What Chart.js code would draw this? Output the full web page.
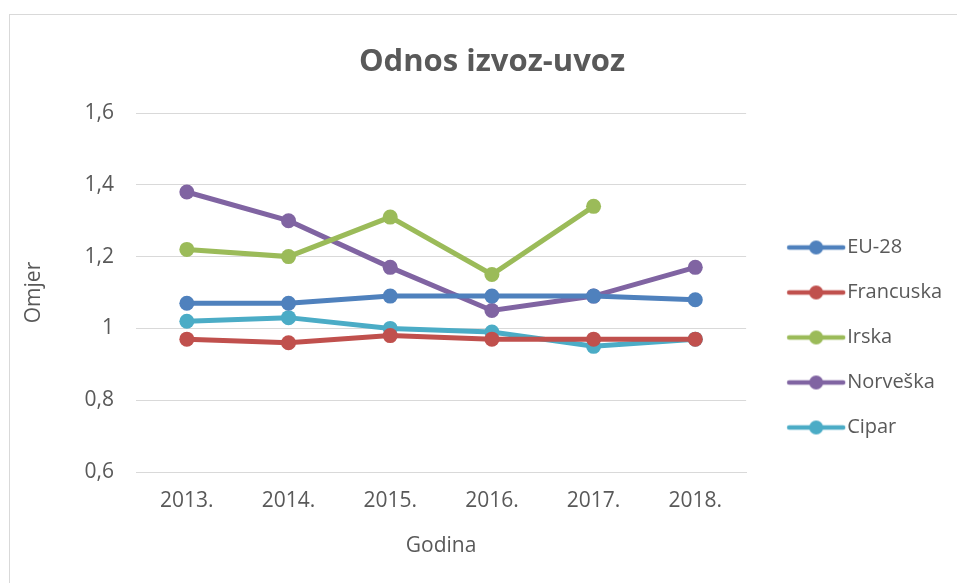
<!DOCTYPE html>
<html>
<head>
<meta charset="utf-8">
<script src="https://cdn.jsdelivr.net/npm/chart.js@4/dist/chart.umd.min.js"></script>
<style>
  html, body { margin: 0; padding: 0; background: #fff; overflow: hidden; }
  #frame {
    position: absolute; left: 9px; top: 14px;
    width: 963px; height: 580px;
    border: 1px solid #d9d9d9; background: #fff; overflow: hidden;
  }
  #frame canvas { display: block; }
</style>
</head>
<body>
<div id="frame"><canvas id="chart" width="972" height="580"></canvas></div>
<script>
const years = ["2013.", "2014.", "2015.", "2016.", "2017.", "2018."];
const eu28 = [1.07, 1.07, 1.09, 1.09, 1.09, 1.08];
const francuska = [0.97, 0.96, 0.98, 0.97, 0.97, 0.97];
const irska = [1.22, 1.20, 1.31, 1.15, 1.34, null];
const norveska = [1.38, 1.30, 1.17, 1.05, 1.09, 1.17];
const cipar = [1.02, 1.03, 1.00, 0.99, 0.95, 0.97];

const FONT = "'Open Sans', 'Liberation Sans', sans-serif";
const TEXT = "#595959";
const MARK_W = 66; // legend box width, text starts after it

// line-with-dot picture for the legend, Excel style.
// chart.js centres the image on MARK_W/2, so draw it off-centre
function legendMark(color) {
  const c = document.createElement("canvas");
  c.width = 160;
  c.height = 18;
  const g = c.getContext("2d");
  const shift = 80 - MARK_W / 2;
  g.strokeStyle = color;
  g.lineWidth = 4.5;
  g.lineCap = "round";
  g.beginPath();
  g.moveTo(shift + 18, 9);
  g.lineTo(shift + 72, 9);
  g.stroke();
  g.fillStyle = color;
  g.beginPath();
  g.arc(shift + 45, 9, 7, 0, Math.PI * 2);
  g.fill();
  return c;
}

function series(label, data, color) {
  return {
    label,
    data,
    borderColor: color,
    backgroundColor: color,
    borderWidth: 5,
    pointRadius: 7.5,
    pointHoverRadius: 7.5,
    pointBorderWidth: 0,
    legendMark: legendMark(color),
    tension: 0,
    spanGaps: false
  };
}

const ctx = document.getElementById("chart");
new Chart(ctx, {
  type: "line",
  data: {
    labels: years,
    datasets: [
      series("EU-28", eu28, "#4f81bd"),
      series("Francuska", francuska, "#c0504d"),
      series("Irska", irska, "#9bbb59"),
      series("Norveška", norveska, "#8064a2"),
      series("Cipar", cipar, "#4bacc6")
    ]
  },
  options: {
    responsive: false,
    animation: false,
    layout: { padding: { left: 22, right: 30, top: 0, bottom: 23 } },
    plugins: {
      title: {
        display: true,
        text: "Odnos izvoz-uvoz",
        color: TEXT,
        font: { family: FONT, size: 31, weight: "bold" },
        padding: { top: 28.4, bottom: 32.4 }
      },
      legend: {
        position: "right",
        // empty title only pushes the entries down, as Excel centres them on the whole chart
        title: { display: true, text: " ", font: { size: 20 }, padding: { top: 0, bottom: 64 } },
        labels: {
          color: TEXT,
          font: { family: FONT, size: 20 },
          usePointStyle: true,
          pointStyleWidth: MARK_W,
          padding: 25,
          generateLabels(chart) {
            return chart.data.datasets.map((ds, i) => ({
              text: ds.label,
              pointStyle: ds.legendMark,
              fontColor: TEXT,
              strokeStyle: ds.borderColor,
              fillStyle: ds.borderColor,
              lineWidth: 0,
              datasetIndex: i
            }));
          }
        }
      },
      tooltip: { enabled: false }
    },
    scales: {
      x: {
        offset: true,
        grid: { display: false, drawTicks: false },
        border: { color: "#d9d9d9", width: 1 },
        ticks: { color: TEXT, font: { family: FONT, size: 21 }, padding: 16 },
        title: {
          display: true,
          text: "Godina",
          color: TEXT,
          font: { family: FONT, size: 21 },
          padding: { top: 0, bottom: 13 }
        },
        afterFit(scale) { scale.height = 100; }
      },
      y: {
        min: 0.6,
        max: 1.6,
        grid: { color: "#d9d9d9", lineWidth: 1, drawTicks: false },
        border: { display: false },
        ticks: {
          stepSize: 0.2,
          color: TEXT,
          font: { family: FONT, size: 21 },
          padding: 22,
          callback: (v) => String(Math.round(v * 10) / 10).replace(".", ",")
        },
        title: {
          display: true,
          text: "Omjer",
          color: TEXT,
          font: { family: FONT, size: 21 },
          padding: { top: -11, bottom: 0 }
        },
        afterFit(scale) { scale.width = 104; }
      }
    }
  }
});
</script>
</body>
</html>
